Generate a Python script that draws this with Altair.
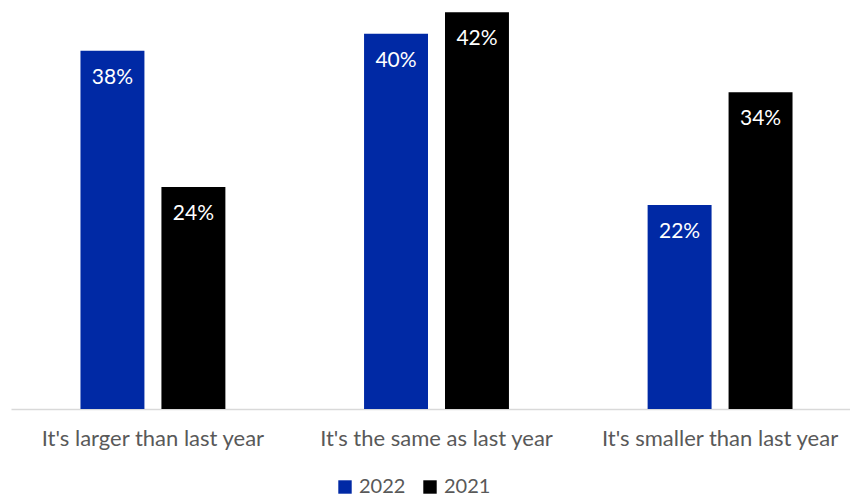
import altair as alt
import pandas as pd

categories = ["It's larger than last year", "It's the same as last year", "It's smaller than last year"]
series = ["2022", "2021"]
values_2022 = [38.1, 39.9, 21.7]
values_2021 = [23.6, 42.2, 33.7]
labels_2022 = ["38%", "40%", "22%"]
labels_2021 = ["24%", "42%", "34%"]
colors = ["#0029A5", "#000000"]

rows = []
for c, v, l in zip(categories, values_2022, labels_2022):
    rows.append({"cat": c, "year": "2022", "value": v, "label": l})
for c, v, l in zip(categories, values_2021, labels_2021):
    rows.append({"cat": c, "year": "2021", "value": v, "label": l})
df = pd.DataFrame(rows)

FONT = "Lato"

x = alt.X("cat:N", sort=categories, title=None,
          scale=alt.Scale(range=[0, 851], paddingInner=0.489, paddingOuter=0.245),
          axis=alt.Axis(labelAngle=0, labelFontSize=22, labelColor="#595959", labelFont=FONT,
                        ticks=False, domainColor="#d9d9d9", domainWidth=1.5, labelPadding=19,
                        labelLimit=400))
xo = alt.XOffset("year:N", sort=series, scale=alt.Scale(paddingInner=0.21, paddingOuter=0))
y = alt.Y("value:Q", scale=alt.Scale(domain=[0, 43.5], nice=False), axis=None)

bars = alt.Chart(df).mark_bar().encode(
    x=x, xOffset=xo, y=y,
    color=alt.Color("year:N", sort=series,
                    scale=alt.Scale(domain=series, range=colors),
                    legend=alt.Legend(title=None, orient="none", legendX=324, legendY=477,
                                      direction="horizontal", symbolType="square", symbolSize=180,
                                      symbolStrokeWidth=0, labelFontSize=20, labelColor="#595959",
                                      labelFont=FONT, columnPadding=14, labelOffset=4)),
)

text = alt.Chart(df).mark_text(color="white", fontSize=21, font=FONT, baseline="middle", dy=27).encode(
    x=x, xOffset=xo, y=y, text="label:N"
)

chart = alt.layer(bars, text).properties(
    width=839, height=409,
    padding={"left": 11, "top": 0, "right": 0, "bottom": 89},
    autosize=alt.AutoSizeParams(type="none"),
).configure(background="white").configure_view(stroke=None, strokeWidth=0)

chart.save("out.html", embed_options={"renderer": "svg", "actions": False})
